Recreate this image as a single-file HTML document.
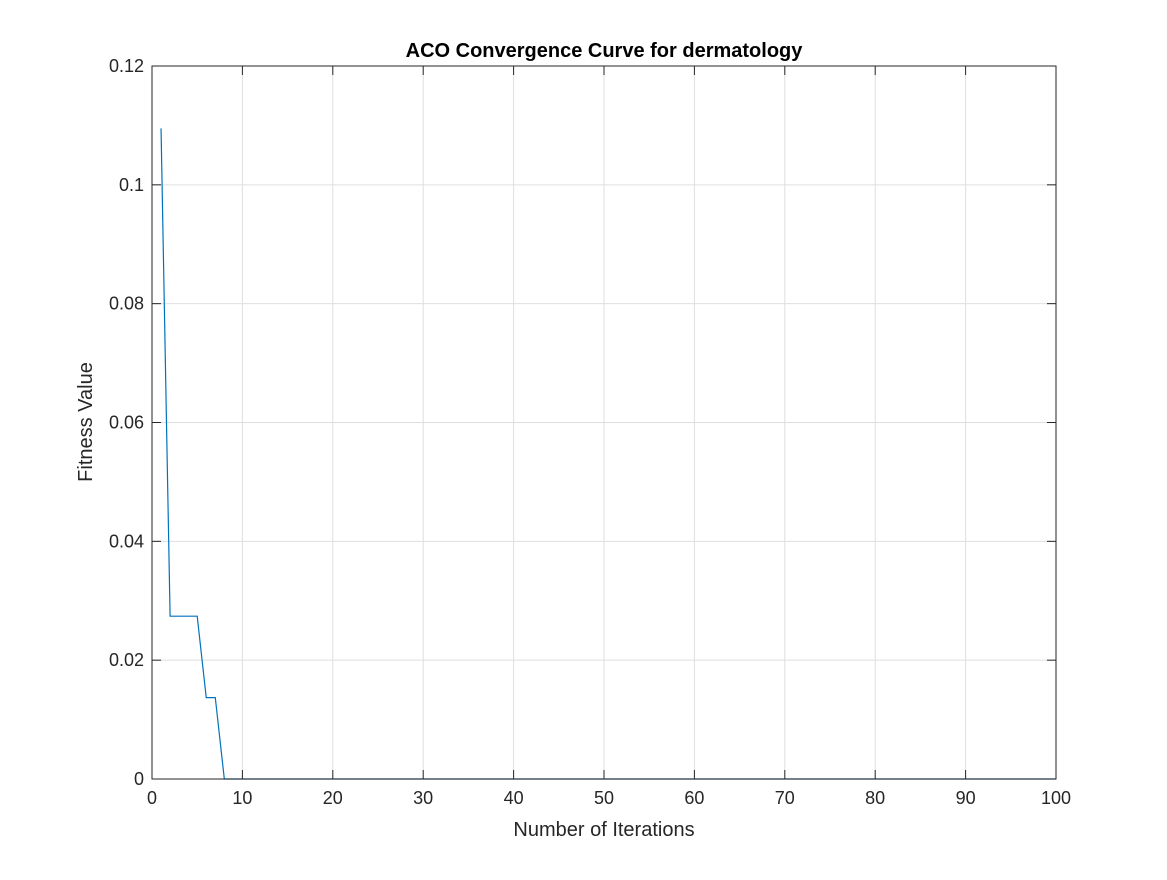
<!DOCTYPE html>
<html><head><meta charset="utf-8"><style>
body{margin:0;background:#fff;}
svg text{font-family:"Liberation Sans",Arial,sans-serif;fill:#262626;}
</style></head><body>
<svg id="chart" width="1167" height="875" viewBox="0 0 1167 875" xmlns="http://www.w3.org/2000/svg">
<rect width="1167" height="875" fill="#fff"/>
<g id="grid"></g>
<g id="ticks"></g>
<path id="line" fill="none" stroke="#0072bd" stroke-width="1.2"/>
<rect x="152" y="66" width="904" height="713" fill="none" stroke="#262626" stroke-width="1"/>
<text x="604" y="57" text-anchor="middle" font-size="20" font-weight="bold" style="fill:#000">ACO Convergence Curve for dermatology</text>
<text x="604" y="836" text-anchor="middle" font-size="20">Number of Iterations</text>
<text transform="translate(92,422) rotate(-90)" text-anchor="middle" font-size="20">Fitness Value</text>
</svg>
<script>
const xTicks=[0,10,20,30,40,50,60,70,80,90,100];
const yTicks=[0,0.02,0.04,0.06,0.08,0.1,0.12];
const yTickLabels=["0","0.02","0.04","0.06","0.08","0.1","0.12"];
const iterations=[1,2,3,4,5,6,7,8,9,10,15,20,30,40,50,60,70,80,90,100];
const fitness=[0.1095,0.0274,0.0274,0.0274,0.0274,0.0137,0.0137,0,0,0,0,0,0,0,0,0,0,0,0,0];
const L=152,R=1056,T=66,B=779;
const sx=v=>L+(v-0)/(100-0)*(R-L);
const sy=v=>B-(v-0)/(0.12-0)*(B-T);
const NS='http://www.w3.org/2000/svg';
const grid=document.getElementById('grid'),ticks=document.getElementById('ticks');
function mk(tag,attrs,parent){const e=document.createElementNS(NS,tag);for(const k in attrs)e.setAttribute(k,attrs[k]);parent.appendChild(e);return e;}
xTicks.forEach(v=>{const x=sx(v);
 const g=mk('line',{x1:x,x2:x,y1:T,y2:B,stroke:'#dfdfdf','stroke-width':1},grid);
 
 
 mk('line',{x1:x,x2:x,y1:B,y2:B-9,stroke:'#262626'},ticks);
 mk('line',{x1:x,x2:x,y1:T,y2:T+9,stroke:'#262626'},ticks);
 const t=mk('text',{x:x,y:B+25,'text-anchor':'middle','font-size':18},ticks);t.textContent=v;
 
 
});
yTicks.forEach((v,i)=>{const y=sy(v);
 const g=mk('line',{x1:L,x2:R,y1:y,y2:y,stroke:'#dfdfdf','stroke-width':1},grid);
 
 
 mk('line',{x1:L,x2:L+9,y1:y,y2:y,stroke:'#262626'},ticks);
 mk('line',{x1:R,x2:R-9,y1:y,y2:y,stroke:'#262626'},ticks);
 const t=mk('text',{x:L-8,y:y+6,'text-anchor':'end','font-size':18},ticks);t.textContent=yTickLabels[i];
 
 
});
document.getElementById('line').setAttribute('d',iterations.map((v,i)=>(i?'L':'M')+sx(v)+','+sy(fitness[i])).join(' '));
</script>
</body></html>
